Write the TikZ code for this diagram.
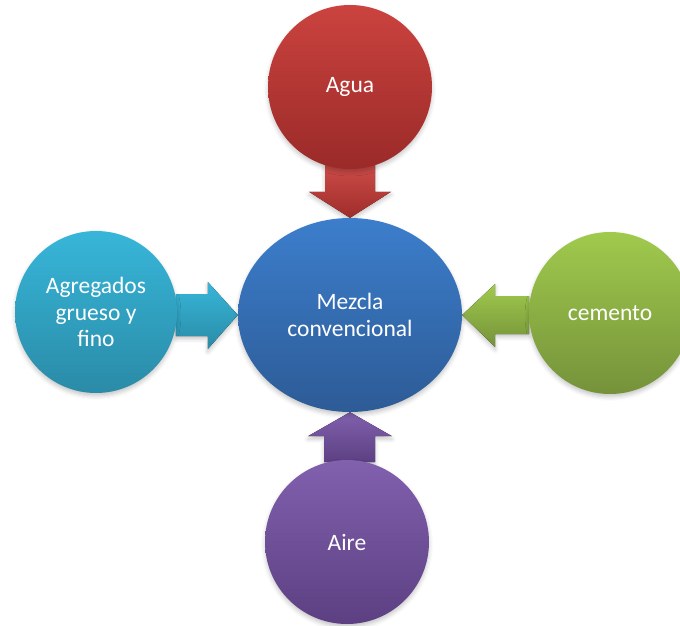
\documentclass[tikz,border=0pt]{standalone}
\usepackage{fontspec}
\setmainfont{Carlito}
\usetikzlibrary{calc,shapes.geometric,shadows.blur,backgrounds}

\definecolor{redT}{HTML}{CB433F}
\definecolor{redB}{HTML}{9A2A28}
\definecolor{bluT}{HTML}{3C7ECC}
\definecolor{bluB}{HTML}{2D5B96}
\definecolor{tealT}{HTML}{37B6D9}
\definecolor{tealB}{HTML}{2A8BA7}
\definecolor{grnT}{HTML}{A0CA4D}
\definecolor{grnB}{HTML}{75923A}
\definecolor{purT}{HTML}{8160AE}
\definecolor{purB}{HTML}{5C4082}

\begin{document}
\begin{tikzpicture}[x=1pt,y=1pt,
  soft/.style={blur shadow={shadow xshift=0pt,shadow yshift=-3pt,shadow blur radius=4pt,shadow opacity=22}},
  label text/.style={text=white,align=center,font=\fontsize{23.5}{26.5}\selectfont},
  bubble/.style={circle,minimum size=#1,inner sep=0pt,label text,soft},
  blockarrow/.style={soft}
]
\useasboundingbox (0,0) rectangle (680,625);
\clip (0,0) rectangle (680,625);

% central ellipse
\node[ellipse,minimum width=224pt,minimum height=194pt,inner sep=0pt,label text,
  top color=bluT,bottom color=bluB,soft] (mix) at (350,310) {Mezcla\\convencional};

% satellite circles
\node[bubble=164pt,top color=redT,bottom color=redB] (agua) at (350,538) {Agua};
\node[bubble=162pt,top color=tealT,bottom color=tealB] (agr) at (96,313) {Agregados\\grueso y\\fino};
\node[bubble=162pt,top color=grnT,bottom color=grnB] (cem) at (610,312) {cemento};
\node[bubble=164pt,top color=purT,bottom color=purB] (aire) at (347,83) {Aire};

% block arrows pointing into the mixture, kept behind the circles
\begin{scope}[on background layer]
\fill[blockarrow,top color=redT!95!white,bottom color=redB!90!redT]
  ($(mix.north)+(-25,54)$) -- ($(mix.north)+(25,54)$) -- ($(mix.north)+(25,26)$) --
  ($(mix.north)+(41,26)$) -- (mix.north) -- ($(mix.north)+(-41,26)$) --
  ($(mix.north)+(-25,26)$) -- cycle;
\fill[blockarrow,top color=tealT,bottom color=tealB]
  ($(mix.west)+(-62,21)$) -- ($(mix.west)+(-30,21)$) -- ($(mix.west)+(-30,33)$) --
  (mix.west) -- ($(mix.west)+(-30,-34)$) -- ($(mix.west)+(-30,-21)$) --
  ($(mix.west)+(-62,-21)$) -- cycle;
\fill[blockarrow,top color=grnT,bottom color=grnB]
  ($(mix.east)+(67,19)$) -- ($(mix.east)+(33,19)$) -- ($(mix.east)+(33,31)$) --
  (mix.east) -- ($(mix.east)+(33,-32)$) -- ($(mix.east)+(33,-19)$) --
  ($(mix.east)+(67,-19)$) -- cycle;
\fill[blockarrow,top color=purT,bottom color=purB]
  ($(mix.south)+(-26,-50)$) -- ($(mix.south)+(25,-50)$) -- ($(mix.south)+(25,-24)$) --
  ($(mix.south)+(42,-24)$) -- (mix.south) -- ($(mix.south)+(-42,-24)$) --
  ($(mix.south)+(-26,-24)$) -- cycle;
\end{scope}
\end{tikzpicture}
\end{document}
